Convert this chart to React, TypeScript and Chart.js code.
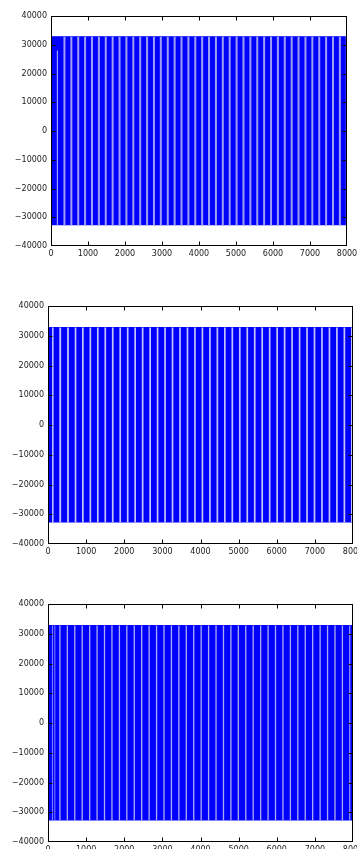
import { useEffect, useRef } from "react";
import { Chart, registerables } from "chart.js";

Chart.register(...registerables);

// 16-bit sample range and length of the recording (samples)
const SIGNAL_MIN = -32768;
const SIGNAL_MAX = 32767;
const SIGNAL_END = 7999;

const xTicks = [0, 1000, 2000, 3000, 4000, 5000, 6000, 7000, 8000];
const yTicks = [-40000, -30000, -20000, -10000, 0, 10000, 20000, 30000, 40000];

// Sparse stretches of each waveform (sample index where they start / end)
const wave1GapStart = [150, 336, 522, 708, 894, 1080, 1267, 1453, 1639, 1825, 2011, 2197, 2383, 2569, 2755, 2941, 3128, 3314, 3500, 3686, 3872, 4058, 4244, 4430, 4616, 4802, 4989, 5175, 5361, 5547, 5733, 5919, 6105, 6291, 6477, 6663, 6850, 7036, 7222, 7408, 7594, 7780, 7966];
const wave1GapEnd = [190, 391, 577, 763, 949, 1135, 1322, 1508, 1694, 1880, 2066, 2252, 2438, 2624, 2810, 2996, 3183, 3369, 3555, 3741, 3927, 4113, 4299, 4485, 4671, 4857, 5044, 5230, 5416, 5602, 5788, 5974, 6160, 6346, 6532, 6718, 6905, 7091, 7277, 7463, 7649, 7835, 7999];
// highest level reached inside each sparse stretch of the first waveform (first one stops short)
const wave1GapTop = [28000, 32767, 32767, 32767, 32767, 32767, 32767, 32767, 32767, 32767, 32767, 32767, 32767, 32767, 32767, 32767, 32767, 32767, 32767, 32767, 32767, 32767, 32767, 32767, 32767, 32767, 32767, 32767, 32767, 32767, 32767, 32767, 32767, 32767, 32767, 32767, 32767, 32767, 32767, 32767, 32767, 32767, 32767];

const wave2GapStart = [105, 296, 500, 700, 892, 1088, 1284, 1480, 1676, 1872, 2068, 2264, 2460, 2656, 2852, 3048, 3244, 3440, 3636, 3832, 4028, 4224, 4420, 4616, 4812, 5008, 5204, 5400, 5596, 5792, 5988, 6184, 6380, 6576, 6772, 6968, 7164, 7360, 7556, 7752, 7948];
const wave2GapEnd = [147, 345, 548, 745, 937, 1133, 1329, 1525, 1721, 1917, 2113, 2309, 2505, 2701, 2897, 3093, 3289, 3485, 3681, 3877, 4073, 4269, 4465, 4661, 4857, 5053, 5249, 5445, 5641, 5837, 6033, 6229, 6425, 6621, 6817, 7013, 7209, 7405, 7601, 7797, 7993];

const wave3GapStart = [100, 170, 295, 490, 685, 880, 1075, 1270, 1465, 1660, 1855, 2050, 2245, 2440, 2635, 2830, 3025, 3220, 3415, 3610, 3805, 4000, 4195, 4390, 4585, 4780, 4975, 5170, 5365, 5560, 5755, 5950, 6145, 6340, 6535, 6730, 6925, 7120, 7315, 7510, 7705, 7900];
const wave3GapEnd = [125, 190, 330, 525, 720, 915, 1110, 1305, 1500, 1695, 1890, 2085, 2280, 2475, 2670, 2865, 3060, 3255, 3450, 3645, 3840, 4035, 4230, 4425, 4620, 4815, 5010, 5205, 5400, 5595, 5790, 5985, 6180, 6375, 6570, 6765, 6960, 7155, 7350, 7545, 7740, 7935];

const DENSE = "#0000ff";
const FONT = { family: "'DejaVu Sans', sans-serif", size: 8 };
const TEXT = "#1a1a1a";

type Pt = { x: number; y: number };

function gapPath(starts: number[], ends: number[], tops?: number[]): Pt[] {
  const pts: Pt[] = [];
  starts.forEach((s, i) => {
    const e = ends[i];
    const t = tops ? tops[i] : SIGNAL_MAX;
    pts.push({ x: s, y: SIGNAL_MIN }, { x: s, y: t }, { x: e, y: t }, { x: e, y: SIGNAL_MIN });
  });
  return pts;
}

const fmt = (v: number) => (v < 0 ? "\u2212" + String(-v) : String(v));

// Axes box with inward tick marks on all four sides
const framePlugin = {
  id: "frame",
  afterDatasetsDraw(chart: any) {
    const { ctx, chartArea: a, scales } = chart;
    const L = Math.round(a.left) + 0.5;
    const R = Math.round(a.right) - 0.5;
    const T = Math.round(a.top) + 0.5;
    const B = Math.round(a.bottom) - 0.5;
    ctx.save();
    ctx.strokeStyle = "#000";
    ctx.lineWidth = 1;
    ctx.beginPath();
    xTicks.forEach((v) => {
      const px = Math.min(R, Math.max(L, Math.round(scales.x.getPixelForValue(v)) + 0.5));
      ctx.moveTo(px, B);
      ctx.lineTo(px, B - 4);
      ctx.moveTo(px, T);
      ctx.lineTo(px, T + 4);
    });
    yTicks.forEach((v) => {
      const py = Math.min(B, Math.max(T, Math.round(scales.y.getPixelForValue(v)) + 0.5));
      ctx.moveTo(L, py);
      ctx.lineTo(L + 4, py);
      ctx.moveTo(R, py);
      ctx.lineTo(R - 4, py);
    });
    ctx.stroke();
    ctx.strokeRect(L, T, R - L, B - T);
    ctx.restore();
  },
};

type PanelProps = {
  top: number;
  height: number;
  padTop: number;
  padRight: number;
  yWidth: number;
  xHeight: number;
  gapStart: number[];
  gapEnd: number[];
  gapTop?: number[];
  gapColor: string;
};

function WavePanel(p: PanelProps) {
  const ref = useRef<HTMLCanvasElement>(null);
  useEffect(() => {
    if (!ref.current) return;
    const chart = new Chart(ref.current, {
      type: "line",
      data: {
        datasets: [
          {
            data: gapPath(p.gapStart, p.gapEnd, p.gapTop),
            borderWidth: 0,
            borderColor: "rgba(0,0,0,0)",
            backgroundColor: p.gapColor,
            fill: { value: SIGNAL_MIN },
            pointRadius: 0,
          },
          {
            data: [
              { x: 0, y: SIGNAL_MAX },
              { x: SIGNAL_END, y: SIGNAL_MAX },
            ],
            borderWidth: 1,
            borderColor: DENSE,
            backgroundColor: DENSE,
            fill: { value: SIGNAL_MIN },
            pointRadius: 0,
          },
        ],
      },
      options: {
        animation: false,
        responsive: false,
        maintainAspectRatio: false,
        layout: { padding: { top: p.padTop, right: p.padRight, left: 0, bottom: 0 } },
        plugins: { legend: { display: false }, tooltip: { enabled: false } },
        elements: { line: { tension: 0 } },
        scales: {
          x: {
            type: "linear",
            min: 0,
            max: 8000,
            grid: { display: false, drawTicks: false },
            border: { display: false },
            ticks: { padding: 3, font: FONT, color: TEXT, maxRotation: 0, autoSkip: false, callback: (v: any) => fmt(Number(v)) },
            afterBuildTicks: (s: any) => {
              s.ticks = xTicks.map((v) => ({ value: v }));
            },
            afterFit: (s: any) => {
              s.height = p.xHeight;
              s.paddingLeft = 0;
              s.paddingRight = 0;
            },
          },
          y: {
            type: "linear",
            min: -40000,
            max: 40000,
            grid: { display: false, drawTicks: false },
            border: { display: false },
            ticks: { padding: 4, font: FONT, color: TEXT, autoSkip: false, callback: (v: any) => fmt(Number(v)) },
            afterBuildTicks: (s: any) => {
              s.ticks = yTicks.map((v) => ({ value: v }));
            },
            afterFit: (s: any) => {
              s.width = p.yWidth;
              s.paddingTop = 0;
              s.paddingBottom = 0;
            },
          },
        },
      },
      plugins: [framePlugin],
    } as any);
    return () => chart.destroy();
  }, []);
  return (
    <canvas
      ref={ref}
      width={357}
      height={p.height}
      style={{ position: "absolute", left: 0, top: p.top, width: 357, height: p.height }}
    />
  );
}

export default function App() {
  return (
    <div style={{ position: "absolute", left: 0, top: 0, width: 357, height: 849, background: "#fff", overflow: "hidden" }}>
      <WavePanel top={0} height={262} padTop={16} padRight={10} yWidth={51} xHeight={16}
        gapStart={wave1GapStart} gapEnd={wave1GapEnd} gapTop={wave1GapTop} gapColor="#9c9cf2" />
      <WavePanel top={290} height={270} padTop={16} padRight={4} yWidth={48} xHeight={16}
        gapStart={wave2GapStart} gapEnd={wave2GapEnd} gapColor="#c2c2f7" />
      <WavePanel top={588} height={261} padTop={16} padRight={4} yWidth={48} xHeight={7}
        gapStart={wave3GapStart} gapEnd={wave3GapEnd} gapColor="#a8a8f3" />
    </div>
  );
}
